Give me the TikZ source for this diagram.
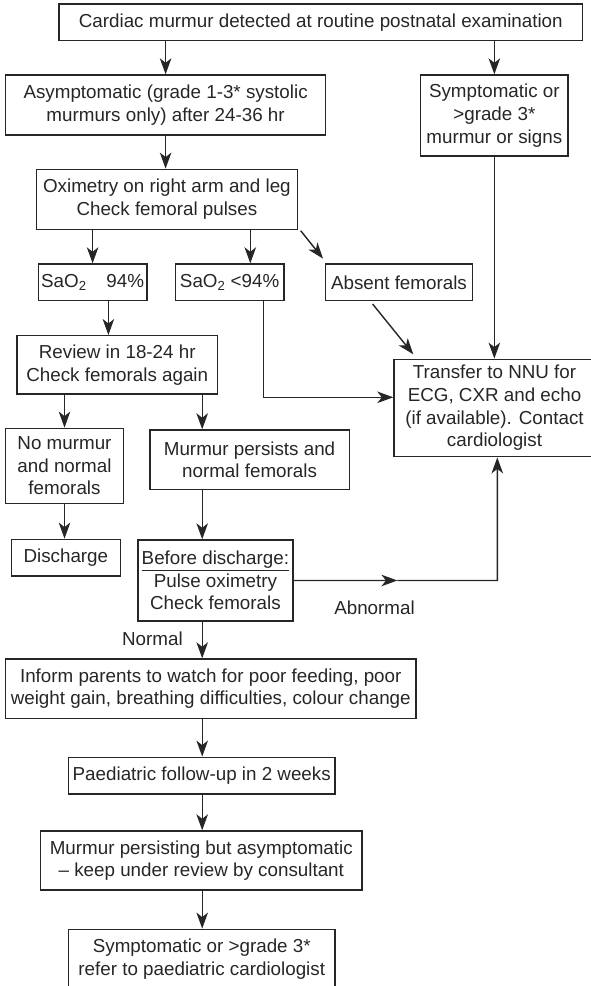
\documentclass[tikz,border=0pt]{standalone}
\usepackage{fontspec}
\setmainfont{Liberation Sans}
\usepackage{tikz}
\usetikzlibrary{arrows.meta, positioning, calc}
\usepackage{xcolor}
\definecolor{ink}{HTML}{262626}

\begin{document}
\begin{tikzpicture}[
    x=1pt, y=-1pt,
    box/.style={draw=ink, line width=1.4pt, inner sep=0pt, align=center, text=ink, font=\fontsize{18.8}{22.7}\selectfont},
    lbl/.style={text=ink, font=\fontsize{18.8}{22.7}\selectfont},
    arr/.style={draw=ink, line width=1.4pt, -{Stealth[length=16pt, width=11.5pt, inset=4.5pt]}},
    >=Stealth
]
\useasboundingbox (0,0) rectangle (590,986);
\node[box, minimum width=523.6pt, minimum height=36.7pt] (top) at (320.8,22.35) {Cardiac murmur detected at routine postnatal examination};
\node[box, minimum width=320pt, minimum height=60pt] (asym) at (165.6,105) {Asymptomatic (grade 1-3* systolic\\murmurs only) after 24-36 hr};
\node[box, minimum width=147.3pt, minimum height=81pt] (sympt) at (494.35,115.5) {Symptomatic or\\>grade 3*\\murmur or signs};
\node[box, minimum width=260.8pt, minimum height=60pt] (oxim) at (166.9,199.3) {Oximetry on right arm and leg\\Check femoral pulses};
\node[box, minimum width=108.4pt, minimum height=36.7pt] (sat1) at (92.6,282.35) {SaO\textsubscript{2}\hspace{1.05em}94\%};
\node[box, minimum width=108.4pt, minimum height=36.7pt] (sat2) at (229.6,282.35) {SaO\textsubscript{2} <94\%};
\node[box, minimum width=146.7pt, minimum height=36.7pt] (absent) at (398.95,282.35) {Absent femorals};
\node[box, minimum width=200.5pt, minimum height=58.3pt] (review) at (117.25,364.85) {Review in 18-24 hr\\Check femorals again};
\node[box, minimum width=201pt, minimum height=97.4pt] (transfer) at (494.5,408) {Transfer to NNU for\\ECG, CXR and echo\\(if available). Contact\\cardiologist};
\node[box, minimum width=117.8pt, minimum height=75pt] (nomurmur) at (64.5,465.8) {No murmur\\and normal\\femorals};
\node[box, minimum width=199.5pt, minimum height=59.3pt] (persists) at (249.55,459.65) {Murmur persists and\\normal femorals};
\node[box, minimum width=109.1pt, minimum height=36.7pt] (discharge) at (65.85,557.65) {Discharge};
\node[box, minimum width=154.8pt, minimum height=81pt] (before) at (215.4,580.5) {\underline{Before discharge:}\\Pulse oximetry\\Check femorals};
\node[box, minimum width=410.3pt, minimum height=59.3pt] (inform) at (210.75,688.65) {Inform parents to watch for poor feeding, poor\\weight gain, breathing difficulties, colour change};
\node[box, minimum width=266.5pt, minimum height=36.7pt] (followup) at (201.75,775.65) {Paediatric follow-up in 2 weeks};
\node[box, minimum width=321.4pt, minimum height=59pt] (persisting) at (201.3,860.5) {Murmur persisting but asymptomatic\\\textendash{} keep under review by consultant};
\node[box, minimum width=266.5pt, minimum height=60pt] (last) at (201.75,959.3) {Symptomatic or >grade 3*\\refer to paediatric cardiologist};
\node[lbl] (abnormal) at (374.5,607.3) {Abnormal};
\node[lbl] (normal) at (152.4,638.3) {Normal};

\coordinate (spine) at (202.2,0);
\coordinate (s2in) at ([xshift=20.7pt]sat2.north);
\coordinate (s1out) at ([xshift=15.8pt]sat1.south);
\coordinate (s2out) at ([xshift=33.9pt]sat2.south);
\coordinate (tin) at ([yshift=10.7pt]transfer.west);
\coordinate (tout) at ([xshift=2.8pt]transfer.south);
\coordinate (corner) at (tout |- before.east);
\coordinate (mid) at ($(before.east)!0.51!(corner)$);

\draw[arr] (top.south -| asym.north) -- (asym.north);
\draw[arr] (top.south -| sympt.north) -- (sympt.north);
\draw[arr] (asym.south) -- (asym.south |- oxim.north);
\draw[arr] (oxim.south -| sat1.north) -- (sat1.north);
\draw[arr] (oxim.south -| s2in) -- (s2in);
\draw[arr] ([shift={(2.7pt,-0.7pt)}]oxim.south east) -- ([shift={(-1.9pt,4.7pt)}]absent.north west);
\draw[arr] (s1out) -- (s1out |- review.north);
\draw[arr] (s2out) |- (tin);
\draw[arr] ([shift={(-26.35pt,-2.6pt)}]absent.south) -- ([shift={(20pt,4.3pt)}]transfer.north west);
\draw[arr] (sympt.south) -- (sympt.south |- transfer.north);
\draw[arr] (review.south -| nomurmur.north) -- (nomurmur.north);
\draw[arr] (review.south -| spine) -- (persists.north -| spine);
\draw[arr] (nomurmur.south) -- (nomurmur.south |- discharge.north);
\draw[arr] (persists.south -| spine) -- (before.north -| spine);
\draw[arr] (before.east) -- (mid);
\draw[arr] (mid) -- (corner) -- (tout);
\draw[arr] (before.south -| spine) -- (inform.north -| spine);
\draw[arr] (inform.south -| spine) -- (followup.north -| spine);
\draw[arr] (followup.south -| spine) -- (persisting.north -| spine);
\draw[arr] (persisting.south -| spine) -- (last.north -| spine);
\end{tikzpicture}
\end{document}
